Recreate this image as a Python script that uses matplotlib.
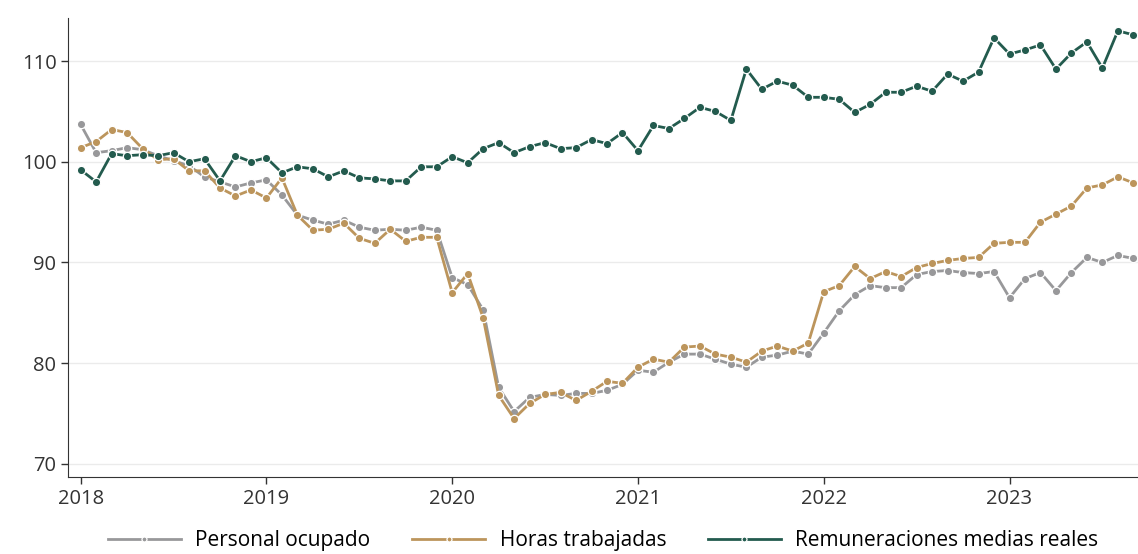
import matplotlib

matplotlib.use("Agg", force=True)
import matplotlib.pyplot as plt
import numpy as np

# monthly indices, Jan 2018 - Sep 2023
years = ["2018", "2019", "2020", "2021", "2022", "2023"]

personal = [
    103.7, 100.9, 101.1, 101.4, 101.2, 100.6, 100.1, 99.6, 98.5, 98.0, 97.5, 97.9,
    98.2, 96.7, 94.7, 94.2, 93.8, 94.2, 93.5, 93.2, 93.3, 93.2, 93.5, 93.2,
    88.5, 87.8, 85.3, 77.6, 75.2, 76.6, 76.9, 76.8, 77.0, 77.0, 77.3, 77.9,
    79.3, 79.1, 80.1, 80.9, 80.9, 80.4, 79.9, 79.6, 80.6, 80.8, 81.2, 80.9,
    83.0, 85.2, 86.8, 87.7, 87.5, 87.5, 88.8, 89.1, 89.2, 89.0, 88.9, 89.1,
    86.5, 88.4, 89.0, 87.2, 89.0, 90.5, 90.0, 90.7, 90.4,
]
horas = [
    101.4, 102.0, 103.2, 102.9, 101.3, 100.2, 100.3, 99.1, 99.1, 97.4, 96.6, 97.2,
    96.4, 98.4, 94.7, 93.2, 93.3, 93.9, 92.4, 91.9, 93.3, 92.1, 92.5, 92.5,
    87.0, 88.9, 84.5, 76.8, 74.5, 76.0, 76.9, 77.1, 76.3, 77.2, 78.2, 78.0,
    79.6, 80.4, 80.1, 81.6, 81.7, 80.9, 80.6, 80.1, 81.2, 81.7, 81.2, 82.0,
    87.1, 87.7, 89.6, 88.4, 89.1, 88.6, 89.5, 89.9, 90.2, 90.4, 90.5, 91.9,
    92.0, 92.0, 94.0, 94.8, 95.6, 97.4, 97.7, 98.5, 97.9,
]
remuneraciones = [
    99.2, 98.0, 100.8, 100.6, 100.7, 100.6, 100.9, 100.0, 100.3, 98.1, 100.6, 100.0,
    100.4, 98.9, 99.5, 99.3, 98.5, 99.1, 98.4, 98.3, 98.1, 98.1, 99.5, 99.5,
    100.5, 99.9, 101.3, 101.9, 100.9, 101.5, 101.9, 101.3, 101.4, 102.2, 101.8, 102.9,
    101.1, 103.6, 103.3, 104.3, 105.4, 105.0, 104.1, 109.2, 107.2, 108.0, 107.6, 106.4,
    106.4, 106.2, 104.9, 105.7, 106.9, 106.9, 107.5, 107.0, 108.7, 108.0, 108.9, 112.3,
    110.7, 111.1, 111.6, 109.2, 110.8, 111.9, 109.3, 113.0, 112.6,
]

series = [
    ("Personal ocupado", personal, "#98989a"),
    ("Horas trabajadas", horas, "#bc955c"),
    ("Remuneraciones medias reales", remuneraciones, "#235b4e"),
]

plt.rcParams["font.family"] = ["Open Sans", "DejaVu Sans"]

fig = plt.figure(figsize=(11.38, 5.54), dpi=100)
ax = fig.add_axes([0.06, 0.139, 0.94, 0.829])

months = np.arange(len(personal))
for label, values, color in series:
    ax.plot(months, values, color=color, linewidth=2.0, marker="o",
            markersize=6, markeredgecolor="white", markeredgewidth=0.9,
            label=label)

ax.set_xlim(-0.8, 68.3)
ax.set_ylim(68.7, 114.3)
ax.set_xticks(np.arange(len(years)) * 12)
ax.set_xticklabels(years)
ax.set_yticks([70, 80, 90, 100, 110])
ax.tick_params(labelsize=14.5, colors="#333333", length=5, width=1)
ax.grid(axis="y", color="#ebebeb", linewidth=1)
ax.set_axisbelow(True)
for side in ("top", "right"):
    ax.spines[side].set_visible(False)
for side in ("left", "bottom"):
    ax.spines[side].set_color("#333333")

ax.legend(loc="upper center", bbox_to_anchor=(0.5, -0.075), ncol=3,
          frameon=False, fontsize=15, handlelength=3.5, columnspacing=2.0,
          handletextpad=0.7, markerscale=0.6)

fig.savefig("out.png", dpi=100)
